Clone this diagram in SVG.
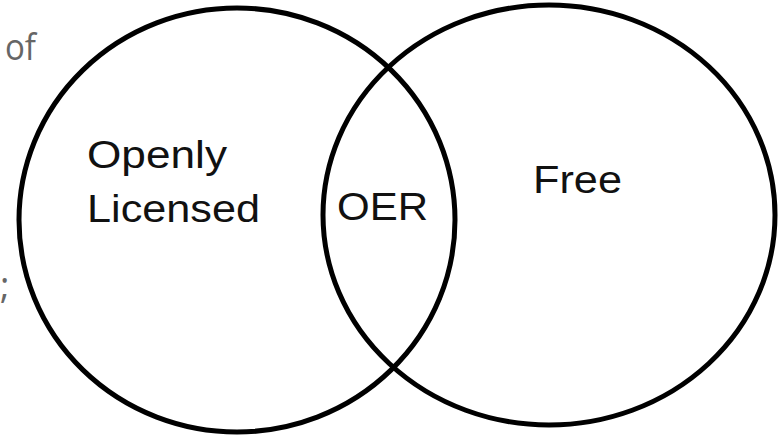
<svg xmlns="http://www.w3.org/2000/svg" width="784" height="435" viewBox="0 0 784 435">
<style>
.ring{fill:none;stroke:#000;stroke-width:5}
.lbl{font-family:"Liberation Sans",Arial,sans-serif;font-size:39px;fill:#111}
.side{font-family:"Open Sans","Noto Sans",sans-serif;font-size:36px;fill:#666}
</style>
<rect width="784" height="435" fill="#fff"/>
<text class="side" x="5" y="60" textLength="31" lengthAdjust="spacingAndGlyphs">of</text>
<text class="side" x="0" y="298">;</text>
<g id="openly-licensed">
<ellipse class="ring" cx="237" cy="220" rx="218" ry="212"/>
<text class="lbl" x="87" y="168" textLength="140" lengthAdjust="spacingAndGlyphs">Openly</text>
<text class="lbl" x="87" y="222" textLength="173" lengthAdjust="spacingAndGlyphs">Licensed</text>
</g>
<g id="free">
<ellipse class="ring" cx="549" cy="215" rx="226" ry="210"/>
<text class="lbl" x="533" y="193" textLength="89" lengthAdjust="spacingAndGlyphs">Free</text>
</g>
<g id="oer">
<text class="lbl" x="337" y="220" textLength="91" lengthAdjust="spacingAndGlyphs">OER</text>
</g>
<g id="connectors"></g>
</svg>
